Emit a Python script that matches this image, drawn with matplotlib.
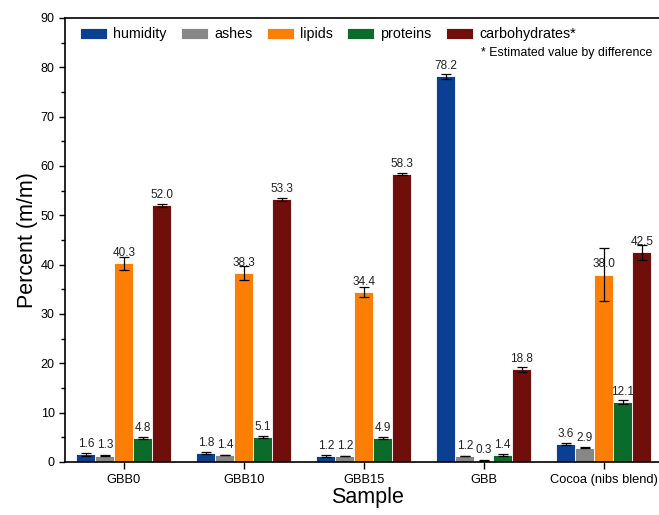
import matplotlib
matplotlib.use("Agg")
import matplotlib.pyplot as plt
import numpy as np
from matplotlib.ticker import MultipleLocator

plt.rcParams['font.family'] = ['Liberation Sans', 'DejaVu Sans']

samples = ["GBB0", "GBB10", "GBB15", "GBB", "Cocoa (nibs blend)"]
components = ["humidity", "ashes", "lipids", "proteins", "carbohydrates*"]
colors = ["#0b3f94", "#878787", "#fb7f05", "#0b6b2b", "#6f0e0b"]

humidity = [1.6, 1.8, 1.2, 78.2, 3.6]
ashes = [1.3, 1.4, 1.2, 1.2, 2.9]
lipids = [40.3, 38.3, 34.4, 0.3, 38.0]
proteins = [4.8, 5.1, 4.9, 1.4, 12.1]
carbohydrates = [52.0, 53.3, 58.3, 18.8, 42.5]

humidity_sd = [0.3, 0.2, 0.2, 0.5, 0.2]
ashes_sd = [0.05, 0.05, 0.05, 0.05, 0.05]
lipids_sd = [1.3, 1.4, 1.0, 0.05, 5.3]
proteins_sd = [0.2, 0.2, 0.2, 0.2, 0.4]
carbohydrates_sd = [0.3, 0.3, 0.2, 0.5, 1.5]

values = [humidity, ashes, lipids, proteins, carbohydrates]
errors = [humidity_sd, ashes_sd, lipids_sd, proteins_sd, carbohydrates_sd]

fig = plt.figure(figsize=(6.59, 5.15), dpi=100)
ax = fig.add_axes([65 / 659, 53 / 515, 606 / 659, 444 / 515])

x = np.arange(len(samples))
w = 0.158
for k, (vals, errs, col, name) in enumerate(zip(values, errors, colors, components)):
    pos = x + (k - 2) * w
    ax.bar(pos, vals, width=w, color=col, edgecolor="white", linewidth=0.6,
           label=name, zorder=2)
    ax.errorbar(pos, vals, yerr=errs, fmt="none", ecolor="black",
                elinewidth=0.9, capsize=3.5, capthick=0.9, zorder=3)
    for px, v in zip(pos, vals):
        ax.annotate(f"{v:.1f}", (px, v), xytext=(0, 3), textcoords="offset points",
                    ha="center", va="bottom", fontsize=8.5, color="#222222")

ax.set_xlim(-0.49, 4.56)
ax.set_ylim(0, 90)
ax.yaxis.set_major_locator(MultipleLocator(10))
ax.yaxis.set_minor_locator(MultipleLocator(5))
ax.set_xticks(x)
ax.set_xticklabels(samples, fontsize=9.3)
ax.tick_params(axis="y", labelsize=9, direction="out", length=4, width=1)
ax.tick_params(axis="y", which="minor", length=3, width=1)
ax.tick_params(axis="x", direction="out", length=5, width=1)
for s in ax.spines.values():
    s.set_linewidth(1.2)

ax.set_ylabel("Percent (m/m)", fontsize=15.5, labelpad=2)
ax.set_xlabel("Sample", fontsize=15.5, labelpad=1)

ax.legend(loc="center left", bbox_to_anchor=(80 / 659, 1 - 34 / 515),
          bbox_transform=fig.transFigure, ncol=5, frameon=False,
          fontsize=10.3, handlelength=1.9, handleheight=0.8, handletextpad=0.42,
          columnspacing=1.0, borderpad=0, borderaxespad=0)
fig.text(652 / 659, 1 - 53 / 515, "* Estimated value by difference",
         ha="right", va="center", fontsize=8.9)

fig.savefig("out.png", dpi=100)
